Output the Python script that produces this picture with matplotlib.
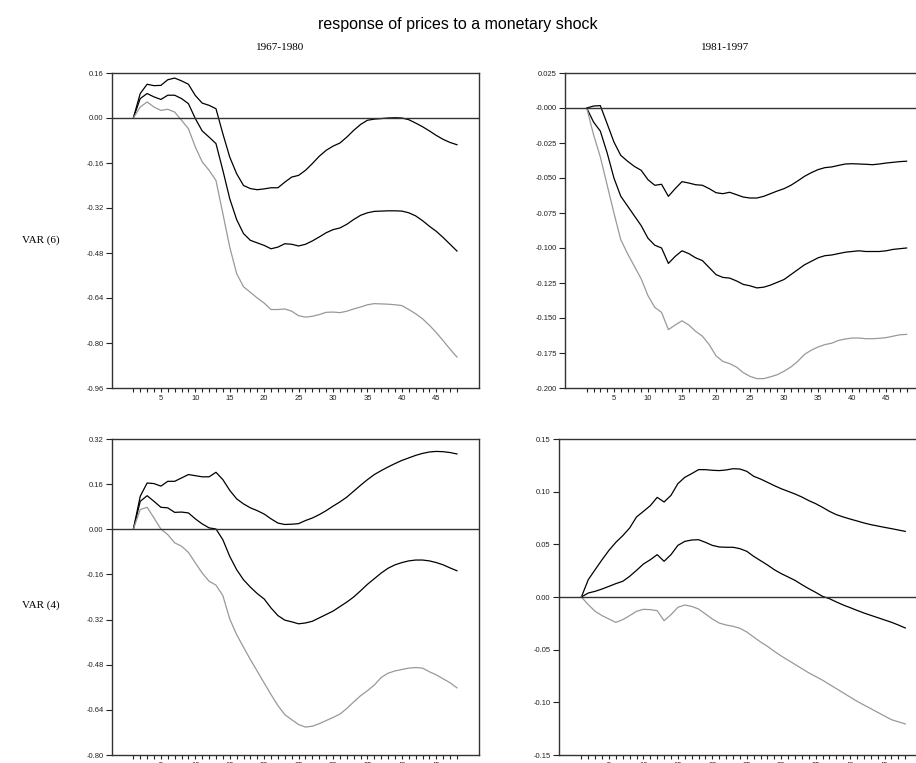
import numpy as np
import matplotlib
matplotlib.use("Agg")
import matplotlib.pyplot as plt
from matplotlib.ticker import MultipleLocator, FixedLocator

horizon = np.arange(1, 49)

# VAR(6), 1967-1980
tl_upper = [0, 0.087, 0.12, 0.115, 0.116, 0.136, 0.142, 0.132, 0.12, 0.08,
            0.053, 0.045, 0.033, -0.056, -0.139, -0.198, -0.24, -0.251, -0.255, -0.252,
            -0.248, -0.248, -0.228, -0.21, -0.204, -0.186, -0.162, -0.136, -0.115, -0.10,
            -0.089, -0.068, -0.044, -0.023, -0.008, -0.004, -0.002, 0.0, 0.001, 0.0,
            -0.006, -0.018, -0.031, -0.046, -0.062, -0.076, -0.087, -0.095]
tl_mid = [0, 0.069, 0.087, 0.075, 0.066, 0.081, 0.081, 0.069, 0.051, -0.002,
          -0.046, -0.068, -0.091, -0.186, -0.287, -0.361, -0.411, -0.435, -0.444, -0.453,
          -0.465, -0.459, -0.447, -0.449, -0.455, -0.449, -0.437, -0.423, -0.408, -0.397,
          -0.391, -0.378, -0.361, -0.346, -0.337, -0.332, -0.331, -0.330, -0.330, -0.331,
          -0.337, -0.348, -0.365, -0.385, -0.403, -0.425, -0.449, -0.473]
tl_lower = [0, 0.039, 0.057, 0.039, 0.027, 0.031, 0.021, -0.008, -0.038, -0.103,
            -0.156, -0.186, -0.222, -0.34, -0.459, -0.553, -0.60, -0.620, -0.640, -0.658,
            -0.681, -0.681, -0.679, -0.687, -0.703, -0.708, -0.705, -0.699, -0.691, -0.690,
            -0.692, -0.687, -0.679, -0.672, -0.664, -0.660, -0.661, -0.662, -0.664, -0.667,
            -0.681, -0.696, -0.714, -0.737, -0.763, -0.792, -0.822, -0.85]

# VAR(6), 1981-1997
tr_upper = [0, 0.0014, 0.0017, -0.0112, -0.0243, -0.0338, -0.038, -0.0417, -0.0445, -0.0512,
            -0.0552, -0.0545, -0.0631, -0.0576, -0.0526, -0.0536, -0.0548, -0.0552, -0.0576, -0.0605,
            -0.0612, -0.0602, -0.0619, -0.0636, -0.0643, -0.0643, -0.0631, -0.0612, -0.0593, -0.0576,
            -0.0552, -0.0521, -0.0488, -0.0462, -0.044, -0.0426, -0.0421, -0.041, -0.040, -0.0398,
            -0.040, -0.0402, -0.0405, -0.040, -0.0393, -0.0388, -0.0383, -0.038]
tr_mid = [0, -0.010, -0.0165, -0.032, -0.050, -0.063, -0.070, -0.077, -0.084, -0.093,
          -0.098, -0.100, -0.111, -0.106, -0.102, -0.104, -0.107, -0.109, -0.114, -0.119,
          -0.121, -0.1215, -0.1235, -0.126, -0.127, -0.1285, -0.128, -0.1265, -0.1245, -0.1225,
          -0.119, -0.1155, -0.112, -0.1095, -0.107, -0.1055, -0.105, -0.104, -0.103, -0.1025,
          -0.102, -0.1025, -0.1025, -0.1025, -0.102, -0.101, -0.1005, -0.100]
tr_lower = [0, -0.019, -0.035, -0.055, -0.075, -0.094, -0.104, -0.113, -0.122, -0.134,
            -0.1424, -0.146, -0.1583, -0.155, -0.152, -0.155, -0.1595, -0.163, -0.169, -0.177,
            -0.181, -0.1826, -0.185, -0.189, -0.1917, -0.1933, -0.1933, -0.192, -0.1905, -0.188,
            -0.185, -0.181, -0.176, -0.173, -0.1707, -0.169, -0.168, -0.166, -0.165, -0.1643,
            -0.1643, -0.1648, -0.1648, -0.1645, -0.164, -0.163, -0.162, -0.1617]

# VAR(4), 1967-1980
bl_upper = [0, 0.117, 0.164, 0.162, 0.153, 0.170, 0.170, 0.182, 0.194, 0.190,
            0.186, 0.186, 0.202, 0.176, 0.138, 0.108, 0.090, 0.076, 0.066, 0.054,
            0.037, 0.022, 0.017, 0.018, 0.020, 0.031, 0.040, 0.052, 0.066, 0.082,
            0.097, 0.114, 0.135, 0.156, 0.176, 0.194, 0.208, 0.221, 0.233, 0.244,
            0.253, 0.262, 0.269, 0.274, 0.276, 0.275, 0.272, 0.267]
bl_mid = [0, 0.099, 0.119, 0.099, 0.078, 0.076, 0.060, 0.061, 0.058, 0.037,
          0.019, 0.005, 0.001, -0.037, -0.096, -0.143, -0.179, -0.205, -0.228, -0.247,
          -0.279, -0.306, -0.322, -0.328, -0.335, -0.332, -0.326, -0.314, -0.302, -0.29,
          -0.274, -0.258, -0.24, -0.218, -0.195, -0.175, -0.155, -0.138, -0.126, -0.118,
          -0.112, -0.109, -0.109, -0.112, -0.118, -0.126, -0.137, -0.147]
bl_lower = [0, 0.070, 0.078, 0.040, 0.001, -0.019, -0.048, -0.060, -0.082, -0.119,
            -0.155, -0.184, -0.198, -0.235, -0.318, -0.373, -0.418, -0.462, -0.503, -0.545,
            -0.586, -0.625, -0.657, -0.675, -0.692, -0.701, -0.698, -0.689, -0.678, -0.667,
            -0.655, -0.635, -0.612, -0.59, -0.572, -0.552, -0.525, -0.51, -0.502, -0.497,
            -0.492, -0.49, -0.492, -0.505, -0.516, -0.53, -0.544, -0.562]

# VAR(4), 1981-1997
br_upper = [0, 0.0165, 0.026, 0.0354, 0.0443, 0.0519, 0.0582, 0.0655, 0.076, 0.0813,
            0.0867, 0.0946, 0.0902, 0.0965, 0.1076, 0.1136, 0.1171, 0.1209, 0.1209, 0.1203,
            0.120, 0.1206, 0.1218, 0.1215, 0.1193, 0.1146, 0.112, 0.1089, 0.1057, 0.1028,
            0.1003, 0.0978, 0.0949, 0.0915, 0.0886, 0.0851, 0.0813, 0.0782, 0.076, 0.074,
            0.0722, 0.0703, 0.0687, 0.0674, 0.0661, 0.0649, 0.0636, 0.0623]
br_mid = [0, 0.0038, 0.0054, 0.0076, 0.0101, 0.0127, 0.0149, 0.0196, 0.0253, 0.0313,
          0.0354, 0.0402, 0.0339, 0.0402, 0.049, 0.0528, 0.0541, 0.0544, 0.0519, 0.049,
          0.0475, 0.0472, 0.0472, 0.0459, 0.0434, 0.0386, 0.0345, 0.0304, 0.0259, 0.0222,
          0.019, 0.0158, 0.0117, 0.0079, 0.0044, 0.0006, -0.0016, -0.0047, -0.0076, -0.0101,
          -0.0127, -0.0152, -0.0174, -0.0196, -0.0218, -0.024, -0.0266, -0.0294]
br_lower = [0, -0.0073, -0.0136, -0.0177, -0.0209, -0.0241, -0.0215, -0.0177, -0.0136, -0.0117,
            -0.012, -0.013, -0.0225, -0.0168, -0.0098, -0.0076, -0.0089, -0.0114, -0.0161, -0.0209,
            -0.0247, -0.0266, -0.0278, -0.0297, -0.0332, -0.038, -0.0427, -0.0468, -0.0516, -0.056,
            -0.060, -0.064, -0.068, -0.072, -0.0755, -0.079, -0.083, -0.087, -0.091, -0.095,
            -0.099, -0.1025, -0.106, -0.1095, -0.113, -0.1165, -0.1185, -0.1205]

tl_ticks = [0.16, 0.00, -0.16, -0.32, -0.48, -0.64, -0.80, -0.96]
tl_labels = ["0.16", "0.00", "-0.16", "-0.32", "-0.48", "-0.64", "-0.80", "-0.96"]
tr_ticks = [0.025, 0.0, -0.025, -0.05, -0.075, -0.1, -0.125, -0.15, -0.175, -0.2]
tr_labels = ["0.025", "-0.000", "-0.025", "-0.050", "-0.075", "-0.100",
             "-0.125", "-0.150", "-0.175", "-0.200"]
bl_ticks = [0.32, 0.16, 0.00, -0.16, -0.32, -0.48, -0.64, -0.80]
bl_labels = ["0.32", "0.16", "0.00", "-0.16", "-0.32", "-0.48", "-0.64", "-0.80"]
br_ticks = [0.15, 0.10, 0.05, 0.00, -0.05, -0.10, -0.15]
br_labels = ["0.15", "0.10", "0.05", "0.00", "-0.05", "-0.10", "-0.15"]

title = "response of prices to a monetary shock"
col_titles = ["1967-1980", "1981-1997"]
row_titles = ["VAR (6)", "VAR (4)"]

plt.rcParams['font.family'] = ['Liberation Sans', 'DejaVu Sans']

fig = plt.figure(figsize=(9.16, 7.63), dpi=100)

W, H = 916.0, 763.0


def make_ax(left, top, right, bottom, xlim):
    ax = fig.add_axes([left / W, 1 - bottom / H, (right - left) / W, (bottom - top) / H])
    ax.set_xlim(*xlim)
    return ax


def style(ax, upper, mid, lower, ticks, labels):
    ax.plot(horizon, upper, color="black", lw=0.9)
    ax.plot(horizon, mid, color="black", lw=0.9)
    ax.plot(horizon, lower, color="#999999", lw=0.9)
    ax.axhline(0, color="#333333", lw=1.0)
    ax.set_ylim(ticks[-1], ticks[0])
    ax.yaxis.set_major_locator(FixedLocator(ticks))
    ax.set_yticklabels(labels)
    ax.xaxis.set_major_locator(FixedLocator([5, 10, 15, 20, 25, 30, 35, 40, 45]))
    ax.xaxis.set_minor_locator(FixedLocator(list(horizon)))
    ax.tick_params(axis="both", which="both", direction="out", length=3,
                   width=0.8, labelsize=5.5, pad=2, colors="#222222")
    ax.tick_params(axis="y", length=4)
    for s in ax.spines.values():
        s.set_linewidth(1.0)
        s.set_color("#333333")


ax_tl = make_ax(112, 73, 479, 388, (-2.1, 51.2))
style(ax_tl, tl_upper, tl_mid, tl_lower, tl_ticks, tl_labels)

ax_tr = make_ax(565, 73, 927, 388, (-2.19, 51.0))
style(ax_tr, tr_upper, tr_mid, tr_lower, tr_ticks, tr_labels)

ax_bl = make_ax(112, 439, 479, 755, (-2.1, 51.2))
style(ax_bl, bl_upper, bl_mid, bl_lower, bl_ticks, bl_labels)

ax_br = make_ax(559, 439, 928, 755, (-2.25, 51.3))
style(ax_br, br_upper, br_mid, br_lower, br_ticks, br_labels)

fig.text(0.5, 1 - 24 / H, title, ha="center", va="center", fontsize=11.5)
fig.text(280 / W, 1 - 47 / H, col_titles[0], ha="center", va="center",
         fontsize=8, family="Liberation Serif")
fig.text(725 / W, 1 - 47 / H, col_titles[1], ha="center", va="center",
         fontsize=8, family="Liberation Serif")
fig.text(41 / W, 1 - 240 / H, row_titles[0], ha="center", va="center",
         fontsize=8, family="Liberation Serif")
fig.text(41 / W, 1 - 605 / H, row_titles[1], ha="center", va="center",
         fontsize=8, family="Liberation Serif")

fig.savefig("out.png", dpi=100)
